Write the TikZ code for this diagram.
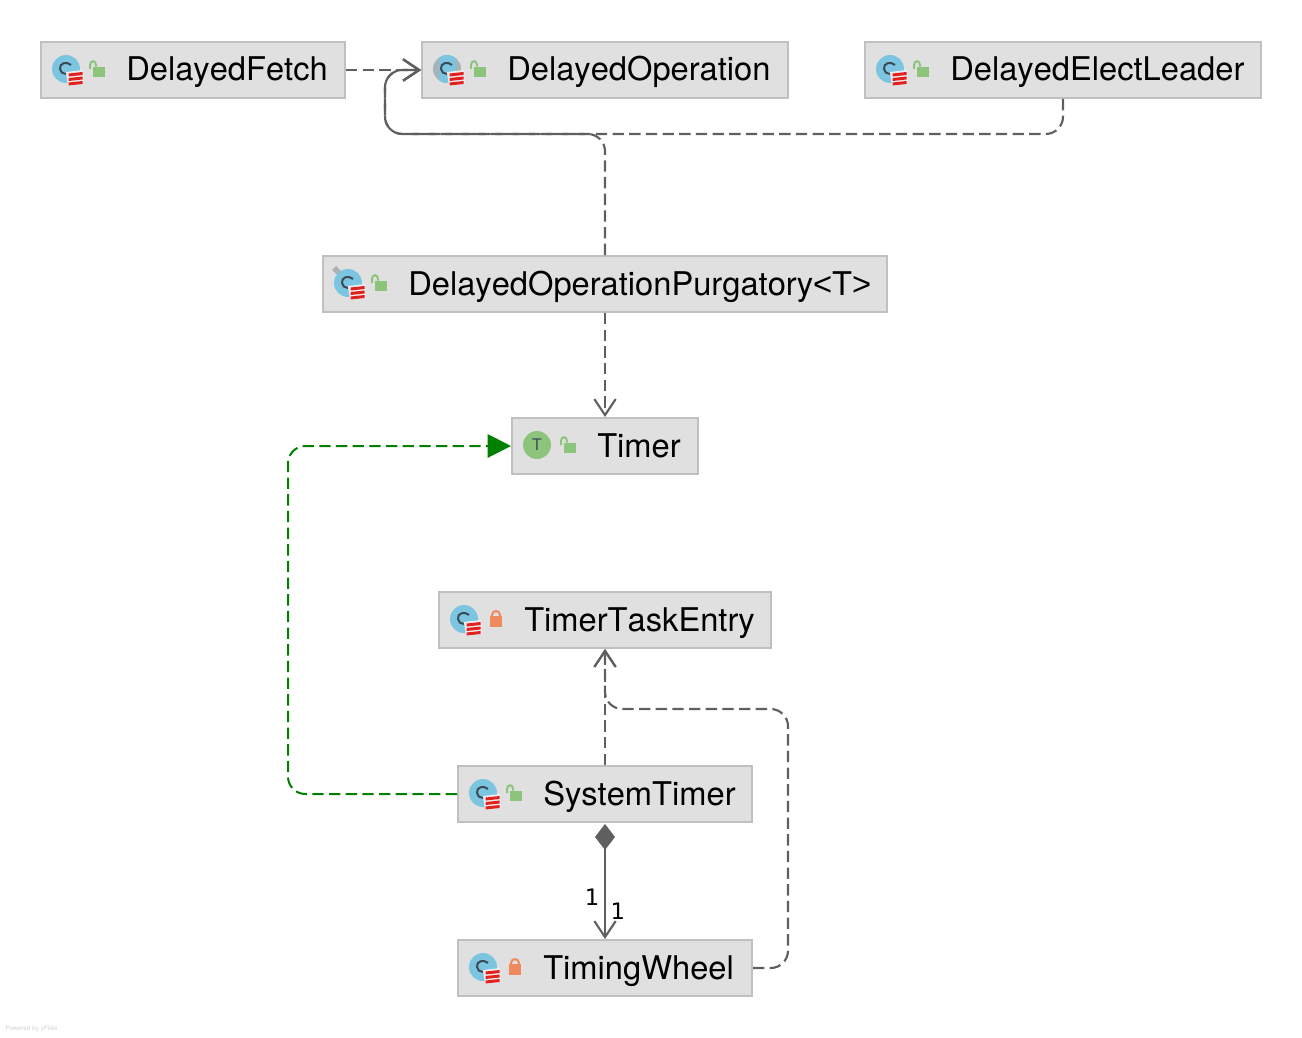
\documentclass[tikz,border=0pt]{standalone}
\usepackage{fontspec}
\setmainfont{TeX Gyre Heros}[Kerning=Off]
\newfontfamily\labelfont{DejaVu Sans}
\newfontfamily\anglefont{Liberation Sans}
\usetikzlibrary{arrows.meta, calc}
\definecolor{boxfill}{HTML}{E0E0E0}
\definecolor{boxline}{HTML}{C0C0C0}
\definecolor{edgegray}{HTML}{5F5F5F}
\definecolor{implgreen}{HTML}{008000}
\definecolor{iconblue}{HTML}{7CC5E0}
\definecolor{icongray}{HTML}{A9B2B8}
\definecolor{icongreen}{HTML}{8DC47C}
\definecolor{iconorange}{HTML}{EE8A5C}
\definecolor{iconred}{HTML}{E2211F}
\definecolor{icondark}{HTML}{3B4A55}
\definecolor{stackback}{HTML}{EDEDED}
\definecolor{footertext}{HTML}{D2D2D2}
\tikzset{
    classbox/.style={draw=boxline, fill=boxfill, line width=1.5pt, minimum height=42pt, inner sep=0pt},
    classlabel/.style={anchor=base west, inner sep=0pt, font=\fontsize{24.5}{28}\selectfont, text=black},
    depend/.style={draw=edgegray, line width=1.6pt, dash pattern=on 8.5pt off 4pt, rounded corners=13pt, -{Straight Barb[length=12pt,width=16pt,line width=1.6pt]}},
    realize/.style={draw=implgreen, line width=1.5pt, dash pattern=on 8.5pt off 4pt, rounded corners=13pt, -{Triangle[length=17.5pt,width=17.5pt,fill=implgreen]}},
    compose/.style={draw=edgegray, line width=1.6pt, {Diamond[length=19.5pt,width=15pt,fill=edgegray]}-{Straight Barb[length=12pt,width=16pt,line width=1.6pt]}},
    multi/.style={font=\labelfont\fontsize{17}{20}\selectfont, inner sep=3.5pt},
    classicon/.pic={
        \fill[iconblue] (0,0) circle (14);
        \draw[icondark, line width=1.5pt] (5,-4) .. controls (1,-8) and (-7,-6) .. (-6,0) .. controls (-6,3) and (-3,5) .. (0,5);
        \fill[stackback] (0,3) -- (17,1) -- (18,15) -- (2,17) -- cycle;
        \foreach \s in {0,4.5,9} {
            \fill[iconred] (2.5,4.5+\s) -- (16.5,3+\s) -- (16.5,6+\s) -- (2.5,7.5+\s) -- cycle;
        }
    },
    abstracticon/.pic={
        \fill[icongray] (0,0) circle (14);
        \begin{scope}
            \clip (-8,-15) rectangle (9,15);
            \fill[iconblue] (0,0) circle (14);
        \end{scope}
        \draw[icondark, line width=1.5pt] (5,-4) .. controls (1,-8) and (-7,-6) .. (-6,0) .. controls (-6,3) and (-3,5) .. (0,5);
        \fill[stackback] (0,3) -- (17,1) -- (18,15) -- (2,17) -- cycle;
        \foreach \s in {0,4.5,9} {
            \fill[iconred] (2.5,4.5+\s) -- (16.5,3+\s) -- (16.5,6+\s) -- (2.5,7.5+\s) -- cycle;
        }
    },
    pinicon/.pic={
        \fill[icongray] (-16,-13) -- (-12,-17) -- (-5,-10) -- (-9,-6) -- cycle;
    },
    traiticon/.pic={
        \fill[icongreen] (0,0) circle (14);
        \node[text=icondark, font=\fontsize{12}{13}\selectfont, inner sep=0pt] (tletter) at (0,0) {T};
    },
    openlock/.pic={
        \fill[icongreen] (-3.7,-3.3) rectangle (8,6.7);
        \draw[icongreen, line width=1.5pt] (-7,-1) -- (-7,-5) .. controls (-7,-10) and (-1,-10) .. (-1,-5) -- (-1,-3.3);
    },
    closedlock/.pic={
        \fill[iconorange] (-6,-4) rectangle (6,7);
        \draw[iconorange, line width=1.5pt] (-3.8,-4) -- (-3.8,-5.5) .. controls (-3.8,-10) and (3.8,-10) .. (3.8,-5.5) -- (3.8,-4);
    }
}

\begin{document}
\begin{tikzpicture}[x=0.75pt, y=-0.75pt]
    \useasboundingbox (0,0) rectangle (1302,1038);
    % Class boxes
    \node[classbox, minimum width=228pt] (fetch) at (193,70) {};
    \node[classbox, minimum width=274.5pt] (operation) at (605,70) {};
    \node[classbox, minimum width=297pt] (elect) at (1063,70) {};
    \node[classbox, minimum width=423pt] (purgatory) at (605,284) {};
    \node[classbox, minimum width=139.5pt] (timer) at (605,446) {};
    \node[classbox, minimum width=249pt] (entry) at (605,620) {};
    \node[classbox, minimum width=220.5pt] (system) at (605,794) {};
    \node[classbox, minimum width=220.5pt] (wheel) at (605,968) {};
    % Class names
    \node[classlabel] (fetchname) at ($(fetch.west)+(86,11)$) {DelayedFetch};
    \node[classlabel] (operationname) at ($(operation.west)+(86,11)$) {DelayedOperation};
    \node[classlabel] (electname) at ($(elect.west)+(86,11)$) {DelayedElectLeader};
    \node[classlabel] (purgatoryname) at ($(purgatory.west)+(86,11)$) {DelayedOperationPurgatory{\anglefont<}T{\anglefont>}};
    \node[classlabel] (timername) at ($(timer.west)+(86,11)$) {Timer};
    \node[classlabel] (entryname) at ($(entry.west)+(86,11)$) {TimerTaskEntry};
    \node[classlabel] (systemname) at ($(system.west)+(86,11)$) {SystemTimer};
    \node[classlabel] (wheelname) at ($(wheel.west)+(86,11)$) {TimingWheel};
    % Icons
    \pic at ($(fetch.west)+(26,-1)$) {classicon};
    \pic at ($(fetch.west)+(57,0)$) {openlock};
    \pic at ($(operation.west)+(26,-1)$) {abstracticon};
    \pic at ($(operation.west)+(57,0)$) {openlock};
    \pic at ($(elect.west)+(26,-1)$) {classicon};
    \pic at ($(elect.west)+(57,0)$) {openlock};
    \pic at ($(purgatory.west)+(26,-1)$) {pinicon};
    \pic at ($(purgatory.west)+(26,-1)$) {classicon};
    \pic at ($(purgatory.west)+(57,0)$) {openlock};
    \pic at ($(timer.west)+(26,-1)$) {traiticon};
    \pic at ($(timer.west)+(57,0)$) {openlock};
    \pic at ($(entry.west)+(26,-1)$) {classicon};
    \pic at ($(entry.west)+(58,0)$) {closedlock};
    \pic at ($(system.west)+(26,-1)$) {classicon};
    \pic at ($(system.west)+(57,0)$) {openlock};
    \pic at ($(wheel.west)+(26,-1)$) {classicon};
    \pic at ($(wheel.west)+(58,0)$) {closedlock};
    % Bend points of the routed edges
    \coordinate (busleft) at (385,134);
    \coordinate (greenleft) at (288,620);
    \coordinate (wheelright) at (788,709);
    % Dependencies
    \draw[depend] (fetch.east) -- (operation.west);
    \draw[depend] (elect.south) |- (busleft) |- (operation.west);
    \draw[depend] (purgatory.north) |- (busleft) |- (operation.west);
    \draw[depend] (purgatory.south) -- (timer.north);
    \draw[depend] (system.north) -- (entry.south);
    \draw[depend] (wheel.east) -| (wheelright) -| (entry.south);
    % Realization
    \draw[realize] (system.west) -| (greenleft) |- (timer.west);
    % Composition
    \draw[compose, shorten <=0.75pt] (system.south) -- node[multi, pos=.64, left] (nearone) {1} node[multi, pos=.76, right] (farone) {1} (wheel.north);
    % Footer
    \node[anchor=west, inner sep=0pt, text=footertext, font=\fontsize{4.8}{6}\selectfont] (poweredby) at (5,1029) {Powered by yFiles};
\end{tikzpicture}
\end{document}
